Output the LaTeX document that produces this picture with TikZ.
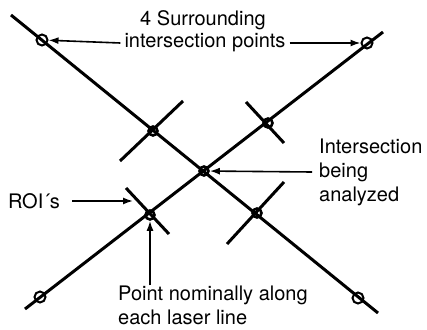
\documentclass[tikz,border=0pt]{standalone}
\usepackage{fontspec}
\setmainfont{TeX Gyre Heros}
\usetikzlibrary{arrows.meta}

\begin{document}
\begin{tikzpicture}[x=1pt,y=-1pt,
    laser/.style={line width=3pt},
    ring/.style={draw,circle,line width=2pt,minimum size=11pt,inner sep=0pt},
    roi/.style={draw,circle,line width=2.6pt,minimum size=9pt,inner sep=0pt},
    callout/.style={line width=1.6pt,-{Latex[length=10pt,width=7pt]}},
    lbl/.style={font=\fontsize{20}{24}\selectfont,inner sep=0pt}]
    \useasboundingbox (0,0) rectangle (427,329);
    % the two laser lines
    \coordinate (a0) at (11,15);
    \coordinate (a1) at (378,313);
    \coordinate (b0) at (25,309);
    \coordinate (b1) at (383,32);
    \draw[laser] (a0) -- (a1);
    \draw[laser] (b0) -- (b1);
    % short arms of the ROIs
    \draw[laser] (120,161) -- (183,101);
    \draw[laser] (246,102) -- (284,143);
    \draw[laser] (126,188) -- (169,234);
    \draw[laser] (227,244) -- (284,182);
    % intersection points
    \node[ring] (tl) at (42,40) {};
    \node[ring] (tr) at (367,43) {};
    \node[ring] (bl) at (40,297) {};
    \node[ring] (br) at (358,298) {};
    \node[roi] (ctr) at (204,171) {};
    \node[roi] (roiUL) at (153,131) {};
    \node[roi] (roiUR) at (268,123) {};
    \node[roi] (roiLL) at (150,215) {};
    \node[roi] (roiLR) at (257,213) {};
    \coordinate (armhit) at (133,201);
    % labels
    \node[lbl] (topa) at (203,20) {4 Surrounding};
    \node[lbl] (topb) at (205,43) {intersection points};
    \node[lbl,anchor=west,align=left] (ilbl) at (319,172) {Intersection\\being\\analyzed};
    \node[lbl] (rlbl) at (34,201) {ROI´s};
    \node[lbl,anchor=west,align=left] (plbl) at (118,305) {Point nominally along\\each laser line};
    % arrows
    \draw[callout] ([xshift=-4pt]topb.west) -- (tl);
    \draw[callout] ([xshift=4pt]topb.east) -- (tr);
    \draw[callout] ([xshift=-7pt]ilbl.west) -- (ctr);
    \draw[callout] ([xshift=12pt]rlbl.east) -- (armhit);
    \draw[callout] (plbl.north -| roiLL) -- (roiLL);
\end{tikzpicture}
\end{document}
